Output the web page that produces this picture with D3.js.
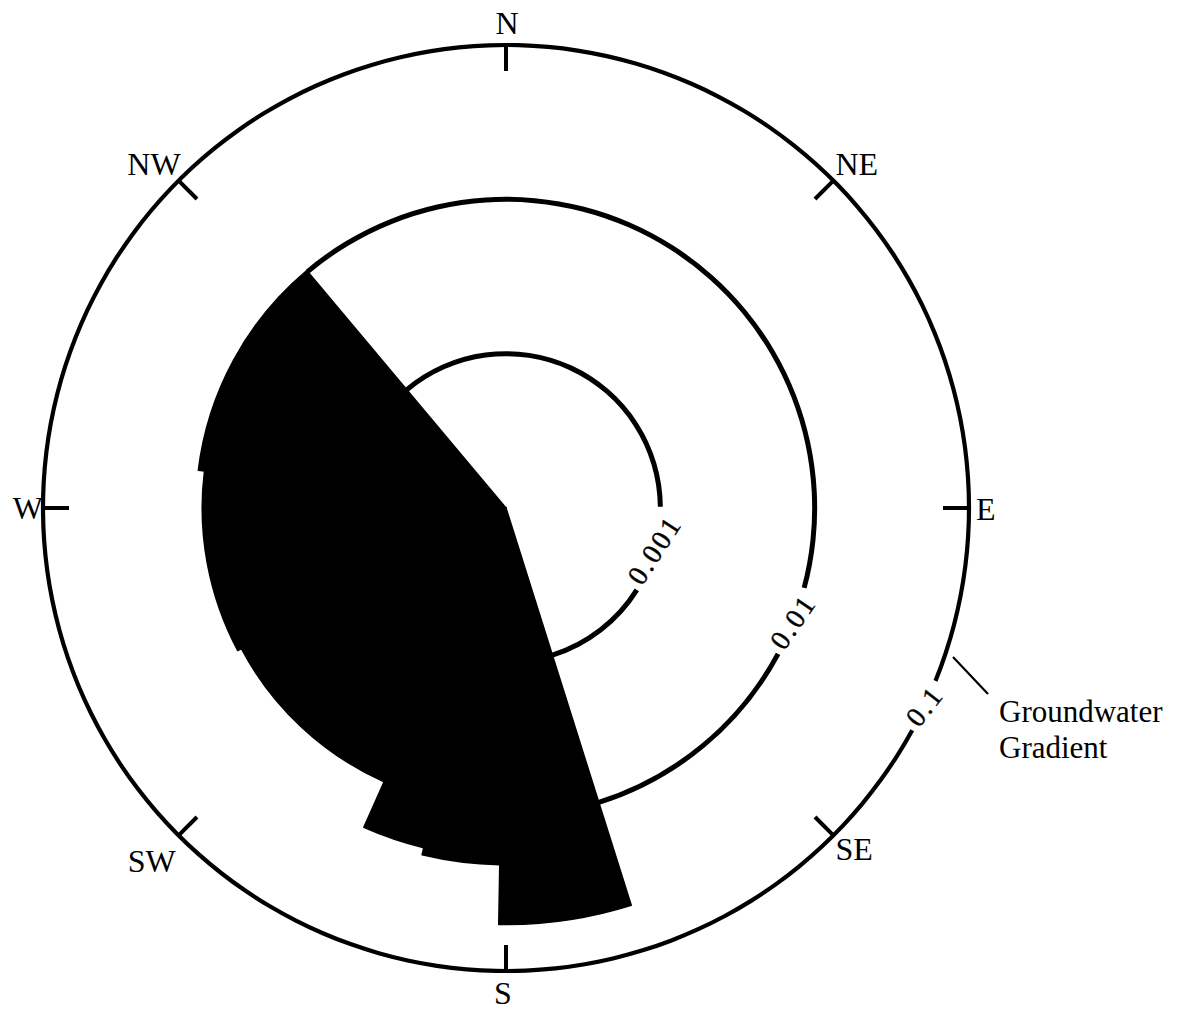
<!DOCTYPE html>
<html>
<head>
<meta charset="utf-8">
<script src="https://cdn.jsdelivr.net/npm/d3@7"></script>
<style>
  html, body { margin: 0; padding: 0; background: #fff; }
  svg { display: block; }
  text { font-family: "Liberation Serif", "Times New Roman", Times, serif; fill: #000; }
</style>
</head>
<body>
<svg id="chart" width="1181" height="1013"></svg>
<script>
// Direction classes of the groundwater gradient (bearing in degrees, clockwise from north)
const binFrom = [162.5, 181, 193.6, 204, 242, 277];
const binTo   = [181, 193.6, 204, 242, 277, 320];
// Gradient magnitude of each direction class
const gradient = [0.050, 0.0205, 0.0184, 0.00875, 0.0093, 0.0102];

// Radial (log) reference rings
const ringValues = [0.001, 0.01, 0.1];
const ringLabels = ["0.001", "0.01", "0.1"];

// Compass points
const compassBearings = [0, 45, 90, 135, 180, 225, 270, 315];
const compassLabels = ["N", "NE", "E", "SE", "S", "SW", "W", "NW"];

const axisTitle = ["Groundwater", "Gradient"];

// ---- layout ----
const cx = 506, cy = 508, R = 463;
const rad = d => d * Math.PI / 180;

const svg = d3.select("#chart");
const g = svg.append("g").attr("transform", `translate(${cx},${cy})`);

const r = d3.scaleLog().domain([1e-4, 0.1]).range([0, R]);
const polar = (b, rr) => [rr * Math.sin(rad(b)), -rr * Math.cos(rad(b))];

// angular span occupied by the rose
const roseStart = d3.min(binFrom), roseEnd = d3.max(binTo);
const roseMax = d3.max(gradient);

// ring label placement along the lower-right quadrant
const ringLabelBearing = [105.8, 111.6, 115.3];
const ringLabelRotate = [-57, -56, -52];
const ringStroke = [5, 5, 4.2];

const ringG = g.append("g");
ringValues.forEach((v, i) => {
  const rr = r(v);
  const [x, y] = polar(ringLabelBearing[i], rr);
  const t = ringG.append("text")
    .attr("transform", `translate(${x},${y}) rotate(${ringLabelRotate[i]})`)
    .attr("text-anchor", "middle")
    .attr("dominant-baseline", "central")
    .attr("font-size", 28)
    .attr("letter-spacing", 2.5)
    .attr("stroke", "#000")
    .attr("stroke-width", 0.4)
    .text(ringLabels[i]);
  const len = t.node().getComputedTextLength();
  const half = (len / 2 + 6) / rr; // half-gap in radians
  const b0 = rad(ringLabelBearing[i]);
  // rings lying under the rose are only drawn in the open sector
  const spans = v < roseMax
    ? [[rad(roseEnd) - 2 * Math.PI, b0 - half], [b0 + half, rad(roseStart)]]
    : [[b0 + half, b0 - half + 2 * Math.PI]];
  spans.forEach(([a0, a1]) => {
    ringG.insert("path", "text")
      .attr("d", d3.arc()({
        innerRadius: rr - ringStroke[i] / 2,
        outerRadius: rr + ringStroke[i] / 2,
        startAngle: a0,
        endAngle: a1
      }))
      .attr("fill", "#000");
  });
});

// compass ticks (pointing inward from the outer ring)
g.append("g").selectAll("line")
  .data(compassBearings)
  .join("line")
  .attr("x1", d => polar(d, R)[0])
  .attr("y1", d => polar(d, R)[1])
  .attr("x2", d => polar(d, R - 26)[0])
  .attr("y2", d => polar(d, R - 26)[1])
  .attr("stroke", "#000")
  .attr("stroke-width", 4);

// compass labels: anchor and offset from the ring point
const labelPlace = {
  "N":  { anchor: "middle", dx: 1,   dy: -11 },
  "NE": { anchor: "start",  dx: 2,   dy: -6 },
  "E":  { anchor: "start",  dx: 7,   dy: 12 },
  "SE": { anchor: "start",  dx: 2,   dy: 25 },
  "S":  { anchor: "middle", dx: -3,  dy: 33 },
  "SW": { anchor: "end",    dx: -3,  dy: 37 },
  "W":  { anchor: "end",    dx: 0,   dy: 11 },
  "NW": { anchor: "end",    dx: 2,   dy: -6 }
};
g.append("g").selectAll("text")
  .data(compassBearings)
  .join("text")
  .attr("x", (d, i) => polar(d, R)[0] + labelPlace[compassLabels[i]].dx)
  .attr("y", (d, i) => polar(d, R)[1] + labelPlace[compassLabels[i]].dy)
  .attr("text-anchor", (d, i) => labelPlace[compassLabels[i]].anchor)
  .attr("font-size", 32)
  .text((d, i) => compassLabels[i]);

// rose wedges
const arc = d3.arc().innerRadius(0);
g.append("g").selectAll("path")
  .data(gradient.map((v, i) => ({ from: binFrom[i], to: binTo[i], value: v })))
  .join("path")
  .attr("d", d => arc({ outerRadius: r(d.value), startAngle: rad(d.from), endAngle: rad(d.to) }))
  .attr("fill", "#000")
  .attr("stroke", "#000")
  .attr("stroke-width", 1.5)
  .attr("stroke-linejoin", "round");

// radial axis title with leader line
svg.append("line")
  .attr("x1", 953).attr("y1", 657)
  .attr("x2", 988).attr("y2", 694)
  .attr("stroke", "#000").attr("stroke-width", 2.2);
svg.append("text")
  .attr("x", 999).attr("y", 722)
  .attr("font-size", 31)
  .selectAll("tspan")
  .data(axisTitle)
  .join("tspan")
  .attr("x", 999)
  .attr("dy", (d, i) => i === 0 ? 0 : 36)
  .text(d => d);
</script>
</body>
</html>
